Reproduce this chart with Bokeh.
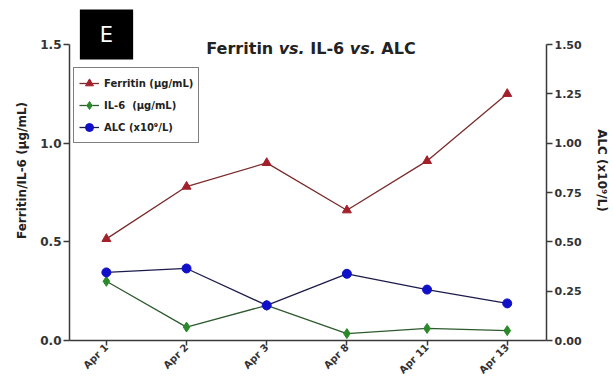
from math import pi
from bokeh.plotting import figure
from bokeh.models import (Range1d, LinearAxis, FixedTicker, Label, Legend,
                          LegendItem, NumeralTickFormatter)
from bokeh.embed import file_html
from bokeh.resources import INLINE

# ---- data ----
dates = ["Apr 1", "Apr 2", "Apr 3", "Apr 8", "Apr 11", "Apr 13"]
ferritin = [0.515, 0.78, 0.90, 0.66, 0.91, 1.25]
il6 = [0.30, 0.068, 0.178, 0.035, 0.061, 0.05]
alc = [0.345, 0.365, 0.178, 0.338, 0.258, 0.188]
left_ticks = [0, 0.5, 1.0, 1.5]
right_ticks = [0, 0.25, 0.5, 0.75, 1.0, 1.25, 1.5]
title_parts = [("Ferritin", "bold"), ("vs.", "bold italic"), ("IL-6", "bold"),
               ("vs.", "bold italic"), ("ALC", "bold")]

x = list(range(len(dates)))
FONT = "DejaVu Sans"
AX = "#3a3a3a"

W_, H_ = 613, 382
FL, FR, FB = 69, 546, 340          # frame left/right/bottom (page px)
AXIS_TOP = 44                       # where 1.5 sits
ymax = 1.5 * FB / (FB - AXIS_TOP)   # frame extends to the top of the canvas

p = figure(width=W_, height=H_, output_backend="svg", toolbar_location=None,
           x_range=Range1d(-0.46, 5.49), y_range=Range1d(0, ymax),
           min_border_left=FL, min_border_right=W_ - FR, min_border_top=0,
           min_border_bottom=H_ - FB)
p.extra_y_ranges = {"alc": Range1d(0, ymax)}
p.outline_line_color = None
p.grid.visible = False
p.background_fill_color = "white"
p.border_fill_color = "white"

right = LinearAxis(y_range_name="alc")
p.add_layout(right, "right")


def style_axis(ax, size):
    ax.axis_line_color = AX
    ax.axis_line_width = 1.5
    ax.major_tick_line_color = AX
    ax.major_tick_line_width = 1.5
    ax.major_tick_in = 0
    ax.major_tick_out = 6
    ax.minor_tick_line_color = None
    ax.major_label_text_font = FONT
    ax.major_label_text_font_style = "bold"
    ax.major_label_text_font_size = size
    ax.major_label_text_color = "#333333"
    ax.major_label_standoff = 2
    ax.axis_label_text_font = FONT
    ax.axis_label_text_font_style = "bold"
    ax.axis_label_text_font_size = "12px"
    ax.axis_label_text_color = "#222222"


left = p.yaxis[0]
style_axis(left, "12px")
left.ticker = FixedTicker(ticks=left_ticks)
left.formatter = NumeralTickFormatter(format="0.0")
left.axis_label = "Ferritin/IL-6 (µg/mL)"
left.axis_label_standoff = 8
left.bounds = (0, 1.5)

style_axis(right, "11px")
right.ticker = FixedTicker(ticks=right_ticks)
right.formatter = NumeralTickFormatter(format="0.00")
right.axis_label = "ALC (x10⁹/L)"
right.axis_label_standoff = 10
right.bounds = (0, 1.5)

bottom = p.xaxis[0]
style_axis(bottom, "10px")
bottom.ticker = FixedTicker(ticks=x)
bottom.major_label_overrides = {i: d for i, d in zip(x, dates)}
bottom.major_label_orientation = pi / 4
bottom.major_tick_out = 5
bottom.major_label_standoff = 0

# ---- series ----
l1 = p.line(x, ferritin, line_color="#7a2c2c", line_width=1.3)
s1 = p.scatter(x, ferritin, marker="triangle", size=9, fill_color="#a31f2a",
               line_color="#a31f2a")
l2 = p.line(x, il6, line_color="#2f5a2f", line_width=1.3)
s2 = p.scatter(x, il6, marker="diamond", size=10, fill_color="#2a8a2a",
               line_color="#2a8a2a")
l3 = p.line(x, alc, line_color="#1c1c4c", line_width=1.3, y_range_name="alc")
s3 = p.scatter(x, alc, marker="circle", size=9, fill_color="#1010c8",
               line_color="#1010c8", y_range_name="alc")

legend = Legend(items=[
    LegendItem(label="Ferritin (µg/mL)", renderers=[l1, s1]),
    LegendItem(label="IL-6  (µg/mL)", renderers=[l2, s2]),
    LegendItem(label="ALC (x10⁹/L)", renderers=[l3, s3]),
], location=(4, FB - 143))
legend.margin = 0
legend.padding = 5
legend.spacing = 2
legend.label_height = 20
legend.glyph_height = 20
legend.glyph_width = 20
legend.label_standoff = 5
legend.label_text_font = FONT
legend.label_text_font_style = "bold"
legend.label_text_font_size = "10px"
legend.label_text_color = "#222222"
legend.border_line_color = "black"
legend.border_line_width = 1.2
legend.background_fill_color = "white"
legend.background_fill_alpha = 1.0
p.add_layout(legend)

# ---- title built from pieces (italic "vs.") ----
W = {"F": .632, "e": .678, "r": .493, "i": .343, "t": .478, "n": .712, " ": .348,
     "v": .652, "s": .595, ".": .380, "I": .372, "L": .637, "-": .415, "6": .696,
     "A": .774, "C": .734}
TSIZE = 16
widths = [sum(W[c] for c in t) * TSIZE for t, _ in title_parts]
space = W[" "] * TSIZE
total = sum(widths) + space * (len(widths) - 1)
cx = (310.5 - FL) - total / 2
for (t, style), w in zip(title_parts, widths):
    p.add_layout(Label(x=cx, y=FB - 48, x_units="screen", y_units="screen",
                       text=t, text_font=FONT, text_font_style=style,
                       text_font_size=f"{TSIZE}px", text_color="#222222",
                       text_baseline="alphabetic", text_align="left"))
    cx += w + space

# ---- panel letter ----
p.add_layout(Label(x=106 - FL, y=FB - 34, x_units="screen", y_units="screen",
                   text="E", text_font=FONT, text_font_size="21px",
                   text_color="white", text_align="center",
                   text_baseline="middle", background_fill_color="black",
                   padding=(20, 13)))

open("out.html", "w").write(file_html(p, INLINE))
